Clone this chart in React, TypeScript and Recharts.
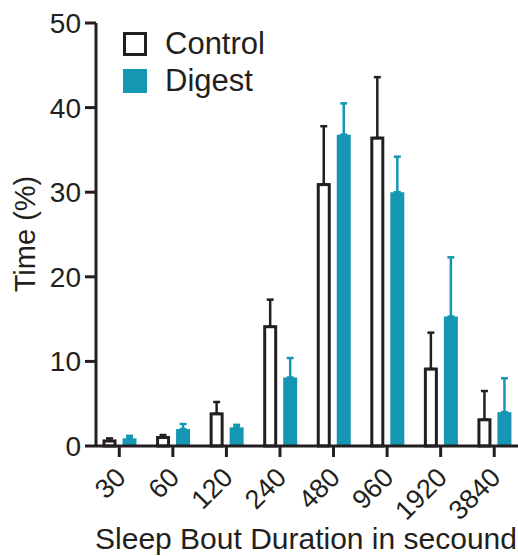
import React from 'react';
import { BarChart, Bar, XAxis, YAxis, ErrorBar, Legend } from 'recharts';

const bouts = ['30', '60', '120', '240', '480', '960', '1920', '3840'];
const controlMean = [0.6, 1.0, 3.8, 14.1, 30.9, 36.4, 9.1, 3.1];
const controlSem = [0.3, 0.3, 1.4, 3.2, 6.9, 7.2, 4.3, 3.4];
const digestMean = [0.9, 2.0, 2.2, 8.1, 36.8, 30.0, 15.3, 4.0];
const digestSem = [0.3, 0.6, 0.3, 2.3, 3.7, 4.2, 7.0, 4.0];
const yTicks = [0, 10, 20, 30, 40, 50];

const data = bouts.map((b, i) => ({
  bout: b,
  control: controlMean[i],
  digest: digestMean[i],
  controlErr: [0, controlSem[i]],
  digestErr: [0, digestSem[i]],
}));

const INK = '#231F20';
const TEAL = '#1596B2';
const FONT = '"Liberation Sans", Arial, Helvetica, sans-serif';

const ControlShape = (props: any) => {
  const { x, y, width, height } = props;
  return (
    <rect
      x={x + 1.5}
      y={y}
      width={Math.max(width - 3, 0)}
      height={height}
      fill="#fff"
      stroke={INK}
      strokeWidth={3}
    />
  );
};

const XTick = (props: any) => {
  const { x, y, payload } = props;
  const ex = x + 8;
  const ey = y + 20;
  return (
    <text
      x={ex}
      y={ey}
      transform={`rotate(-45 ${ex} ${ey})`}
      textAnchor="end"
      fontSize={27}
      fill={INK}
      fontFamily={FONT}
    >
      {payload.value}
    </text>
  );
};

const LegendContent = (props: any) => {
  const { payload } = props;
  return (
    <div style={{ fontFamily: FONT, fontSize: 31, color: INK }}>
      {(payload || []).map((p: any) => {
        const isControl = p.dataKey === 'control';
        return (
          <div
            key={p.value}
            style={{ display: 'flex', alignItems: 'center', height: 37 }}
          >
            <span
              style={{
                display: 'inline-block',
                width: 24,
                height: 24,
                boxSizing: 'border-box',
                background: isControl ? '#fff' : TEAL,
                border: isControl ? `3px solid ${INK}` : 'none',
                marginRight: 18,
              }}
            />
            <span style={{ lineHeight: '31px' }}>{p.value}</span>
          </div>
        );
      })}
    </div>
  );
};

export default function App() {
  return (
    <div style={{ position: 'absolute', left: 0, top: 0, background: '#fff' }}>
      <BarChart
        width={518}
        height={556}
        data={data}
        margin={{ top: 23, right: 0, left: 0, bottom: 0 }}
        barSize={14}
        barGap={6}
      >
        <XAxis
          dataKey="bout"
          type="category"
          height={110}
          padding={{ left: -3.5, right: -3 }}
          tickSize={11}
          tickMargin={2}
          axisLine={{ stroke: INK, strokeWidth: 3 }}
          tickLine={{ stroke: INK, strokeWidth: 3 }}
          tick={<XTick />}
          interval={0}
          label={{
            content: () => (
              <text
                x={306}
                y={549}
                textAnchor="middle"
                fontSize={30}
                fill={INK}
                fontFamily={FONT}
              >
                Sleep Bout Duration in secound
              </text>
            ),
          }}
        />
        <YAxis
          type="number"
          domain={[0, 50]}
          ticks={yTicks}
          width={96}
          tickSize={11}
          tickMargin={4}
          axisLine={{ stroke: INK, strokeWidth: 3 }}
          tickLine={{ stroke: INK, strokeWidth: 3 }}
          tick={{ fontSize: 28, fill: INK, fontFamily: FONT }}
          label={{
            content: () => (
              <text
                x={35}
                y={234}
                transform="rotate(-90 35 234)"
                textAnchor="middle"
                fontSize={29}
                fill={INK}
                fontFamily={FONT}
              >
                Time (%)
              </text>
            ),
          }}
        />
        <Legend
          layout="vertical"
          align="center"
          verticalAlign="middle"
          content={<LegendContent />}
          wrapperStyle={{ left: 123, top: 25, width: 200 }}
        />
        <Bar
          dataKey="control"
          name="Control"
          fill="#fff"
          stroke={INK}
          shape={<ControlShape />}
          isAnimationActive={false}
        >
          <ErrorBar
            dataKey="controlErr"
            width={3.5}
            stroke={INK}
            strokeWidth={2.5}
            direction="y"
            isAnimationActive={false}
          />
        </Bar>
        <Bar
          dataKey="digest"
          name="Digest"
          fill={TEAL}
          isAnimationActive={false}
        >
          <ErrorBar
            dataKey="digestErr"
            width={3.5}
            stroke={TEAL}
            strokeWidth={2.5}
            direction="y"
            isAnimationActive={false}
          />
        </Bar>
      </BarChart>
    </div>
  );
}
